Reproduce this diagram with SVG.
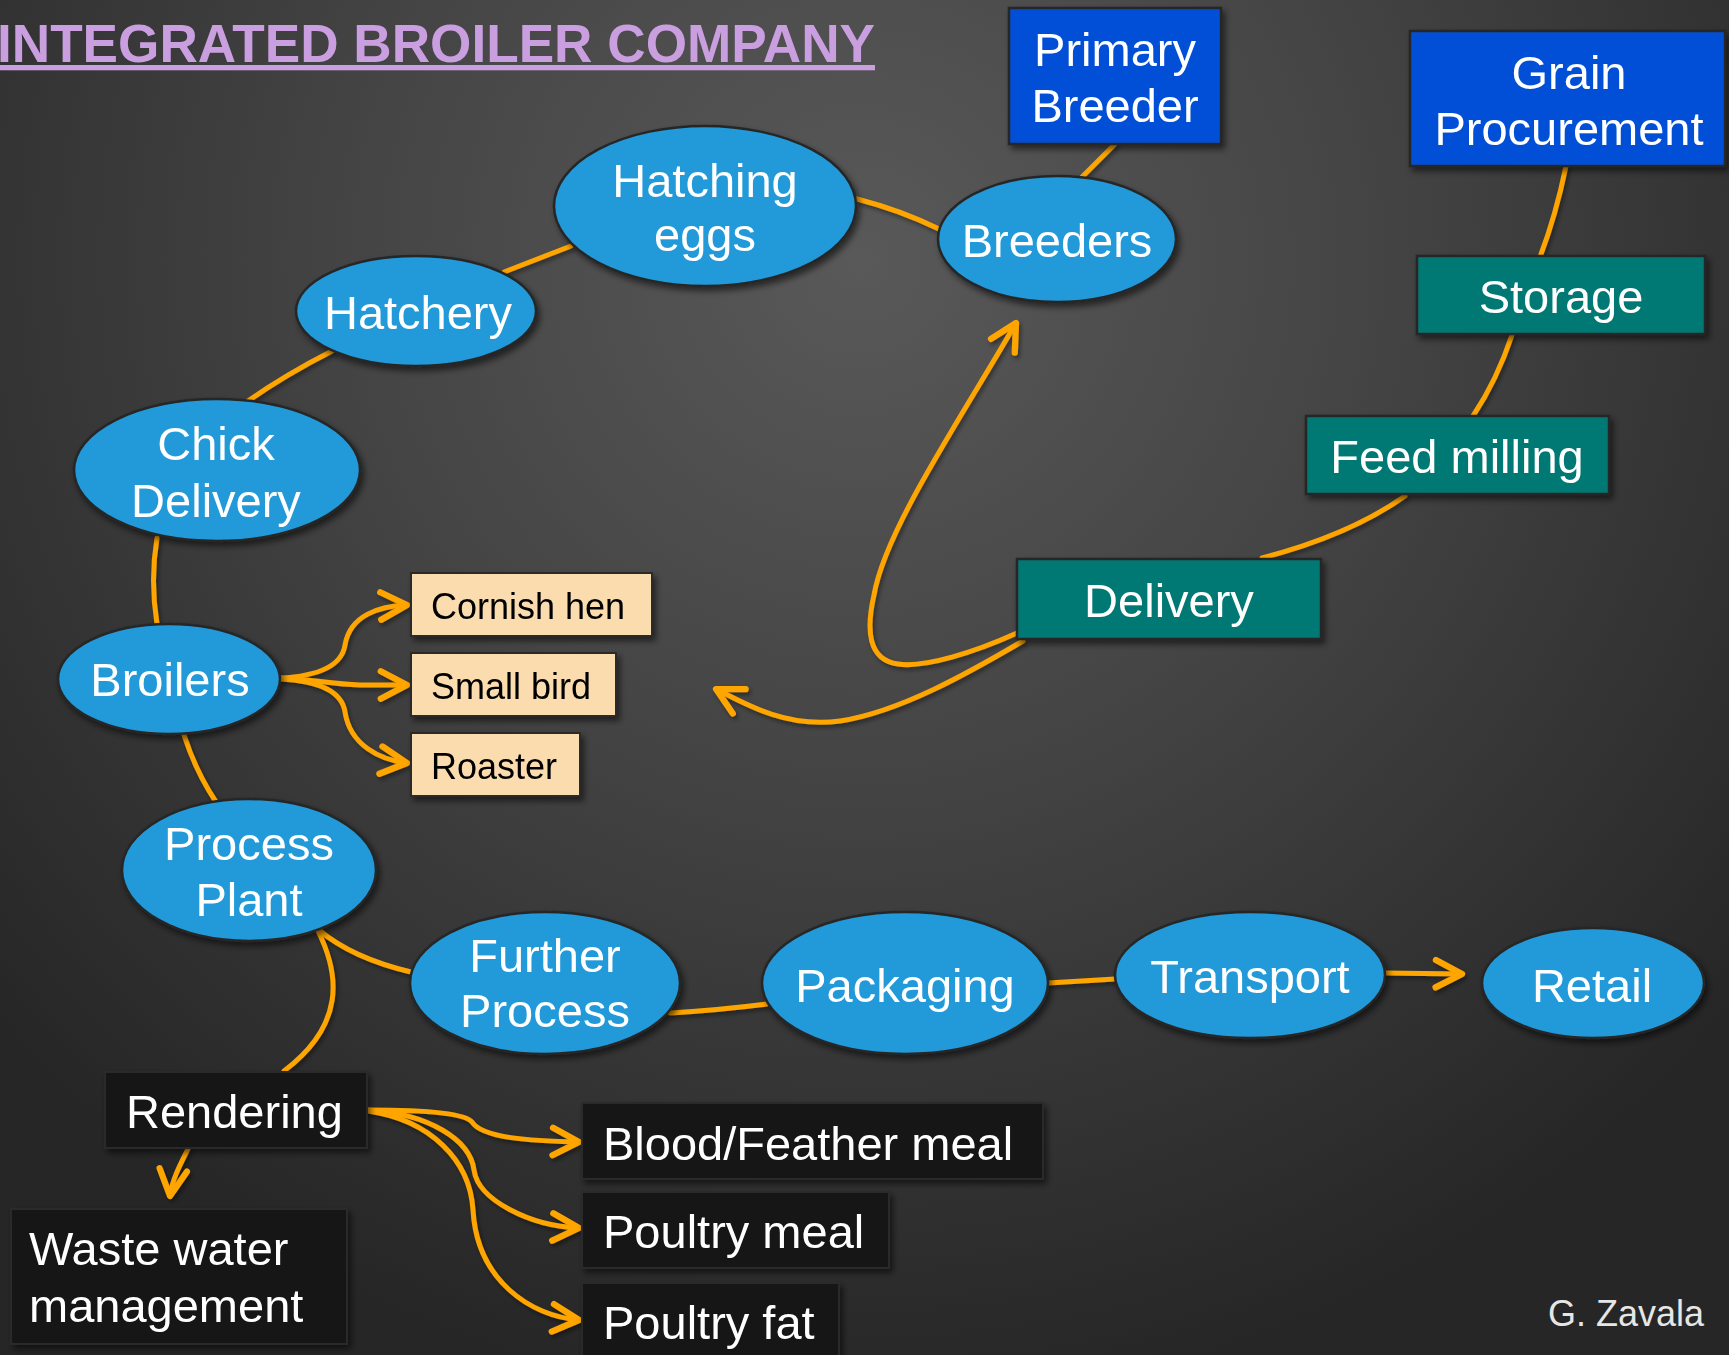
<svg xmlns="http://www.w3.org/2000/svg" width="1729" height="1355" viewBox="0 0 1729 1355">
<defs>
<radialGradient id="bg" gradientUnits="userSpaceOnUse" cx="860" cy="260" r="1150">
<stop offset="0" stop-color="#595959"/>
<stop offset="0.45" stop-color="#444444"/>
<stop offset="1" stop-color="#262626"/>
</radialGradient>
<filter id="sh" x="-20%" y="-20%" width="140%" height="140%">
<feDropShadow dx="3" dy="4" stdDeviation="3" flood-color="#000" flood-opacity="0.55"/>
</filter>
<filter id="lsh" x="-10%" y="-10%" width="120%" height="120%">
<feDropShadow dx="2" dy="3" stdDeviation="2" flood-color="#000" flood-opacity="0.4"/>
</filter>
<marker id="arr" markerUnits="userSpaceOnUse" markerWidth="40" markerHeight="40" viewBox="-26 -16 32 32" refX="0" refY="0" orient="auto" overflow="visible">
<path d="M-21,-11 L0,0 L-21,11" fill="none" stroke="#ffa500" stroke-width="5" stroke-linecap="round" stroke-linejoin="round"/>
</marker>
<style>
.t{font-family:"Liberation Sans",Arial,sans-serif;fill:#fff;font-size:47px;text-anchor:middle}
.tl{font-family:"Liberation Sans",Arial,sans-serif;fill:#fff;font-size:47px}
.tk{font-family:"Liberation Sans",Arial,sans-serif;fill:#000;font-size:36px}
.el{fill:#2099d8;stroke:#262626;stroke-width:2.5}
.bl{fill:#0050d6;stroke:#262626;stroke-width:2.5}
.te{fill:#007873;stroke:#262626;stroke-width:2.5}
.wh{fill:#fadcae;stroke:#2a2a2a;stroke-width:2}
.bk{fill:#131313;stroke:#2c2c2c;stroke-width:2}
.c{fill:none;stroke:#ffa500;stroke-width:5;stroke-linecap:round}
.a{marker-end:url(#arr)}
</style>
</defs>
<rect x="0" y="0" width="1729" height="1355" fill="url(#bg)"/>
<text x="-3" y="62" font-family="'Liberation Sans',Arial,sans-serif" font-weight="bold" font-size="53" fill="#c99fe0" text-decoration="underline" textLength="878" lengthAdjust="spacingAndGlyphs">INTEGRATED BROILER COMPANY</text>

<g id="connectors" filter="url(#lsh)">
<path class="c" d="M1115,144 L1082,177"/>
<path class="c" d="M857,199 Q900,210 939,229"/>
<path class="c" d="M571,246 L504,272"/>
<path class="c" d="M332,351 Q285,375 248,401"/>
<path class="c" d="M157,538 Q150,580 157,624"/>
<path class="c" d="M184,735 Q196,772 216,802"/>
<path class="c a" d="M280,678 C320,676 342,665 345,645 C350,615 380,606 407,605"/>
<path class="c a" d="M280,678 C310,679 330,684 360,685 L407,685"/>
<path class="c a" d="M280,679 C320,681 342,692 345,712 C350,745 380,760 407,763"/>
<path class="c" d="M319,930 Q352,958 411,972"/>
<path class="c" d="M318,931 C340,975 345,1025 284,1071"/>
<path class="c" d="M670,1013 Q720,1010 767,1004"/>
<path class="c" d="M1048,983 L1115,979"/>
<path class="c a" d="M1385,973 L1462,974"/>
<path class="c a" d="M188,1149 C180,1165 172,1180 170,1196"/>
<path class="c a" d="M368,1110 C420,1110 465,1113 472,1122 C482,1138 530,1141 579,1142"/>
<path class="c a" d="M368,1110 C430,1114 470,1140 474,1170 C478,1200 530,1226 579,1228"/>
<path class="c a" d="M368,1111 C430,1120 470,1160 473,1210 C477,1280 530,1316 579,1320"/>
<path class="c" d="M1566,166 Q1556,215 1540,257"/>
<path class="c" d="M1512,335 Q1497,380 1473,416"/>
<path class="c" d="M1405,496 Q1350,535 1262,558"/>
<path class="c a" d="M1017,633 C975,652 925,668 898,664 C868,660 866,630 874,595 C885,530 960,420 1016,323"/>
<path class="c a" d="M1023,641 C970,672 900,712 840,721 C790,728 750,707 716,689"/>
</g>

<g id="primary-breeder" filter="url(#sh)"><rect class="bl" x="1009" y="8" width="212" height="136"/><text class="t" x="1115" y="66">Primary</text><text class="t" x="1115" y="122">Breeder</text></g>
<g id="grain-procurement" filter="url(#sh)"><rect class="bl" x="1410" y="31" width="315" height="135"/><text class="t" x="1569" y="89">Grain</text><text class="t" x="1569" y="145">Procurement</text></g>
<g id="breeders" filter="url(#sh)"><ellipse class="el" cx="1057" cy="239" rx="119" ry="63"/><text class="t" x="1057" y="257">Breeders</text></g>
<g id="storage" filter="url(#sh)"><rect class="te" x="1417" y="256" width="288" height="78"/><text class="t" x="1561" y="313">Storage</text></g>
<g id="feed-milling" filter="url(#sh)"><rect class="te" x="1306" y="416" width="303" height="78"/><text class="t" x="1457" y="473">Feed milling</text></g>
<g id="delivery" filter="url(#sh)"><rect class="te" x="1017" y="559" width="304" height="80"/><text class="t" x="1169" y="617">Delivery</text></g>
<g id="hatching-eggs" filter="url(#sh)"><ellipse class="el" cx="705" cy="206" rx="151" ry="80"/><text class="t" x="705" y="197">Hatching</text><text class="t" x="705" y="251">eggs</text></g>
<g id="hatchery" filter="url(#sh)"><ellipse class="el" cx="416" cy="311" rx="120" ry="55"/><text class="t" x="418" y="329">Hatchery</text></g>
<g id="chick-delivery" filter="url(#sh)"><ellipse class="el" cx="217" cy="470" rx="143" ry="71"/><text class="t" x="216" y="460">Chick</text><text class="t" x="216" y="517">Delivery</text></g>
<g id="broilers" filter="url(#sh)"><ellipse class="el" cx="169" cy="679" rx="111" ry="55"/><text class="t" x="170" y="696">Broilers</text></g>
<g id="cornish-hen" filter="url(#sh)"><rect class="wh" x="411" y="573" width="241" height="63"/><text class="tk" x="431" y="619">Cornish hen</text></g>
<g id="small-bird" filter="url(#sh)"><rect class="wh" x="411" y="653" width="205" height="63"/><text class="tk" x="431" y="699">Small bird</text></g>
<g id="roaster" filter="url(#sh)"><rect class="wh" x="411" y="733" width="169" height="63"/><text class="tk" x="431" y="779">Roaster</text></g>
<g id="process-plant" filter="url(#sh)"><ellipse class="el" cx="249" cy="870" rx="127" ry="71"/><text class="t" x="249" y="860">Process</text><text class="t" x="249" y="916">Plant</text></g>
<g id="further-process" filter="url(#sh)"><ellipse class="el" cx="545" cy="983" rx="135" ry="71"/><text class="t" x="545" y="972">Further</text><text class="t" x="545" y="1027">Process</text></g>
<g id="packaging" filter="url(#sh)"><ellipse class="el" cx="905" cy="983" rx="143" ry="71"/><text class="t" x="905" y="1002">Packaging</text></g>
<g id="transport" filter="url(#sh)"><ellipse class="el" cx="1250" cy="975" rx="135" ry="63"/><text class="t" x="1250" y="993">Transport</text></g>
<g id="retail" filter="url(#sh)"><ellipse class="el" cx="1593" cy="983" rx="111" ry="55"/><text class="t" x="1592" y="1002">Retail</text></g>
<g id="rendering" filter="url(#sh)"><rect class="bk" x="105" y="1072" width="262" height="76"/><text class="tl" x="126" y="1128">Rendering</text></g>
<g id="waste-water" filter="url(#sh)"><rect class="bk" x="11" y="1209" width="336" height="135"/><text class="tl" x="29" y="1265">Waste water</text><text class="tl" x="29" y="1322">management</text></g>
<g id="blood-feather" filter="url(#sh)"><rect class="bk" x="582" y="1103" width="461" height="76"/><text class="tl" x="603" y="1160">Blood/Feather meal</text></g>
<g id="poultry-meal" filter="url(#sh)"><rect class="bk" x="582" y="1192" width="307" height="76"/><text class="tl" x="603" y="1248">Poultry meal</text></g>
<g id="poultry-fat" filter="url(#sh)"><rect class="bk" x="582" y="1283" width="257" height="80"/><text class="tl" x="603" y="1339">Poultry fat</text></g>
<text x="1704" y="1326" font-family="'Liberation Sans',Arial,sans-serif" font-size="36" fill="#e6e6e6" text-anchor="end">G. Zavala</text>
</svg>
